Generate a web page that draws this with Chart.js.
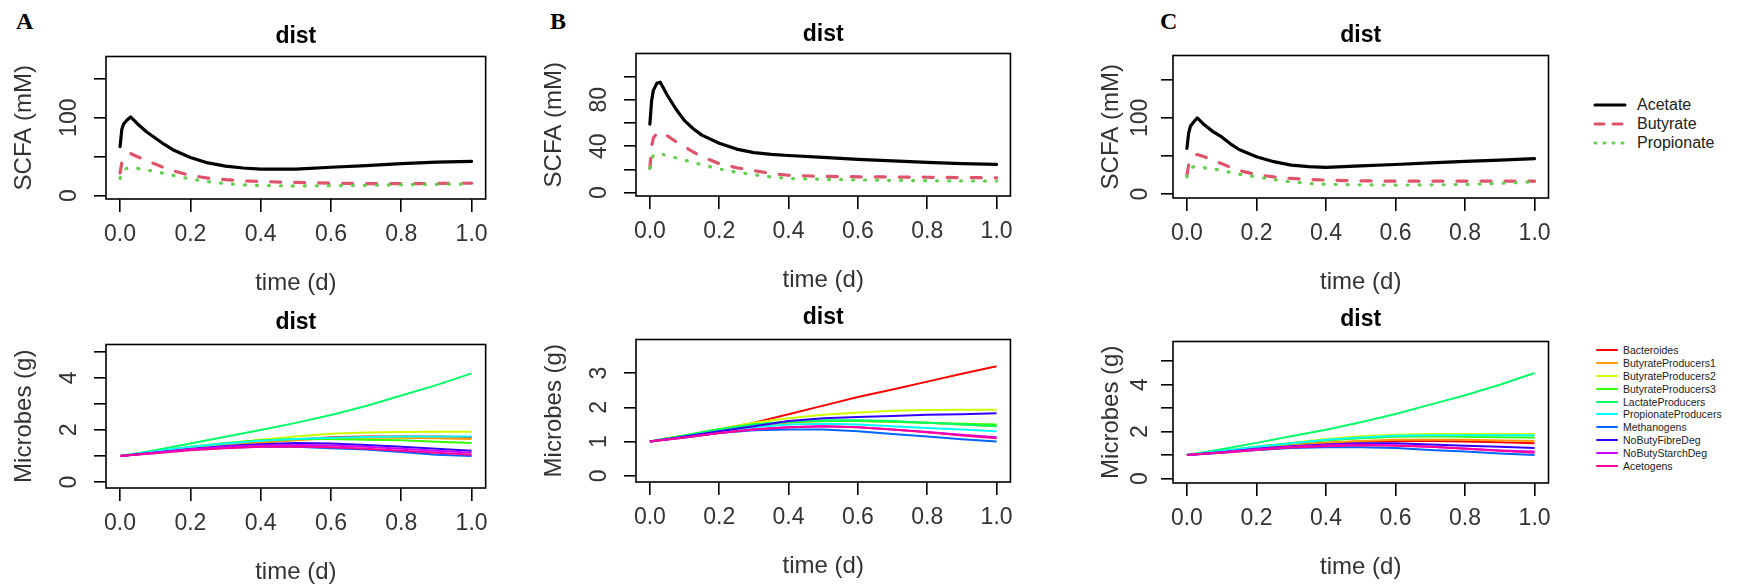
<!DOCTYPE html>
<html>
<head>
<meta charset="utf-8">
<script src="https://cdn.jsdelivr.net/npm/chart.js@4.4.0/dist/chart.umd.min.js"></script>
<style>
  html, body { margin: 0; padding: 0; background: #fff; }
  #fig { position: relative; width: 1742px; height: 585px; overflow: hidden; }
  #fig canvas { position: absolute; }
  .tag { position: absolute; font: bold 24px "Liberation Serif", "Times New Roman", serif; line-height: 24px; color: #000; }
  .legend { position: absolute; font-family: "Liberation Sans", Arial, sans-serif; color: #222; }
  .legend .row { position: absolute; left: 0; display: flex; align-items: center; white-space: nowrap; }
  .legend svg { display: block; }
</style>
</head>
<body>
<div id="fig">
  <div class="tag" style="left:16px; top:9px;">A</div>
  <div class="tag" style="left:550px; top:9px;">B</div>
  <div class="tag" style="left:1160px; top:9px;">C</div>
  <div class="legend" id="legendScfa"></div>
  <div class="legend" id="legendMicrobes"></div>
</div>
<script>
const FONT = '"Liberation Sans", Arial, sans-serif';

// ---- SCFA concentrations (mM) ----
const timeScfa = [0, 0.005, 0.01, 0.02, 0.03, 0.05, 0.075, 0.1, 0.125, 0.15, 0.2, 0.25, 0.3, 0.35, 0.4, 0.5, 0.6, 0.7, 0.8, 0.9, 1.0];
const scfaNames = ['Acetate', 'Butyrate', 'Propionate'];

const acetateA    = [63, 85, 92, 97, 101, 92, 82, 74, 66, 59, 49, 42, 38, 35.5, 34, 34, 36.5, 38.5, 41, 43, 44];
const butyrateA   = [29, 42, 47, 52, 54, 50, 45, 40.5, 36, 32, 26, 22.5, 20.5, 19, 18.2, 17, 16, 15.5, 15.5, 15.7, 16];
const propionateA = [22, 30, 33, 35, 35.5, 35, 33, 31, 28.5, 26, 21.5, 18, 15.5, 14, 13, 12.5, 12.8, 13.3, 14, 14.5, 15];

const acetateB    = [59, 79, 88, 94, 95, 84, 72, 62, 55, 49.5, 42.5, 37.5, 34.5, 33, 32, 30.3, 28.6, 27.4, 26, 25, 24.3];
const butyrateB   = [21, 40, 47, 51, 52, 49, 44, 39.5, 35, 31, 25, 21.5, 19, 16.5, 15, 14, 13.7, 13.5, 13.3, 13, 12.8];
const propionateB = [21, 29, 32, 34, 33.5, 32, 30, 28, 26, 24, 20.5, 17.5, 15.5, 13.5, 12.3, 11.5, 11, 10.6, 10.3, 10.1, 10];

const acetateC    = [60, 80, 89, 95, 100, 91, 82, 75, 66, 58.5, 49, 42.5, 38, 36, 35, 37, 38.8, 41, 43, 44.5, 46.5];
const butyrateC   = [25, 38, 45, 50, 52, 49, 44, 40, 35, 31, 25.5, 22.5, 20.5, 19, 18.3, 17.3, 17, 17, 17, 17, 17];
const propionateC = [22.5, 31, 34, 36, 36, 34.5, 33, 31, 28.5, 26, 22.5, 19, 16, 14, 12.8, 12, 11.8, 12, 12.6, 14, 16];

// ---- microbial biomass (g) ----
const timeMicrobes = [0, 0.1, 0.2, 0.3, 0.4, 0.5, 0.6, 0.7, 0.8, 0.9, 1.0];
const microbeNames = ['Bacteroides', 'ButyrateProducers1', 'ButyrateProducers2', 'ButyrateProducers3', 'LactateProducers',
                      'PropionateProducers', 'Methanogens', 'NoButyFibreDeg', 'NoButyStarchDeg', 'Acetogens'];

const microbesA = [
  [1, 1.15, 1.30, 1.42, 1.52, 1.62, 1.72, 1.75, 1.75, 1.75, 1.73],
  [1, 1.15, 1.30, 1.42, 1.52, 1.60, 1.68, 1.70, 1.70, 1.68, 1.65],
  [1, 1.15, 1.32, 1.48, 1.62, 1.75, 1.85, 1.90, 1.92, 1.93, 1.93],
  [1, 1.17, 1.35, 1.50, 1.60, 1.65, 1.65, 1.62, 1.60, 1.55, 1.50],
  [1, 1.22, 1.48, 1.74, 2.00, 2.27, 2.57, 2.92, 3.32, 3.72, 4.17],
  [1, 1.17, 1.35, 1.48, 1.58, 1.65, 1.70, 1.73, 1.75, 1.75, 1.75],
  [1, 1.12, 1.25, 1.32, 1.35, 1.35, 1.30, 1.25, 1.15, 1.05, 1.00],
  [1, 1.12, 1.27, 1.38, 1.45, 1.50, 1.48, 1.42, 1.35, 1.28, 1.20],
  [1, 1.13, 1.26, 1.35, 1.40, 1.42, 1.40, 1.35, 1.28, 1.20, 1.12],
  [1, 1.10, 1.22, 1.30, 1.35, 1.36, 1.33, 1.28, 1.20, 1.12, 1.05]
];
const microbesB = [
  [1, 1.17, 1.35, 1.55, 1.80, 2.05, 2.30, 2.52, 2.75, 2.98, 3.20],
  [1, 1.17, 1.33, 1.45, 1.55, 1.60, 1.60, 1.58, 1.55, 1.50, 1.45],
  [1, 1.18, 1.37, 1.55, 1.68, 1.78, 1.85, 1.90, 1.92, 1.93, 1.93],
  [1, 1.18, 1.36, 1.50, 1.58, 1.60, 1.60, 1.58, 1.55, 1.52, 1.50],
  [1, 1.18, 1.36, 1.50, 1.58, 1.62, 1.62, 1.60, 1.55, 1.50, 1.45],
  [1, 1.15, 1.30, 1.42, 1.50, 1.52, 1.50, 1.45, 1.40, 1.35, 1.30],
  [1, 1.12, 1.25, 1.33, 1.35, 1.35, 1.30, 1.22, 1.15, 1.07, 1.00],
  [1, 1.15, 1.30, 1.45, 1.60, 1.68, 1.72, 1.75, 1.78, 1.80, 1.83],
  [1, 1.12, 1.25, 1.36, 1.42, 1.45, 1.42, 1.35, 1.28, 1.20, 1.13],
  [1, 1.12, 1.25, 1.35, 1.42, 1.45, 1.42, 1.35, 1.27, 1.18, 1.10]
];
const microbesC = [
  [1, 1.15, 1.30, 1.42, 1.52, 1.58, 1.60, 1.60, 1.58, 1.55, 1.50],
  [1, 1.15, 1.30, 1.42, 1.52, 1.60, 1.65, 1.65, 1.65, 1.62, 1.60],
  [1, 1.17, 1.35, 1.52, 1.68, 1.80, 1.87, 1.90, 1.90, 1.90, 1.90],
  [1, 1.17, 1.35, 1.50, 1.62, 1.72, 1.78, 1.80, 1.78, 1.76, 1.75],
  [1, 1.25, 1.52, 1.80, 2.08, 2.40, 2.75, 3.15, 3.55, 4.00, 4.50],
  [1, 1.17, 1.35, 1.50, 1.65, 1.75, 1.82, 1.85, 1.85, 1.85, 1.85],
  [1, 1.10, 1.22, 1.30, 1.33, 1.33, 1.30, 1.22, 1.15, 1.07, 1.00],
  [1, 1.12, 1.27, 1.38, 1.45, 1.50, 1.50, 1.45, 1.40, 1.35, 1.30],
  [1, 1.12, 1.25, 1.35, 1.42, 1.45, 1.42, 1.35, 1.28, 1.20, 1.15],
  [1, 1.10, 1.22, 1.32, 1.38, 1.42, 1.40, 1.35, 1.27, 1.18, 1.10]
];

const xTicks = [0, 0.2, 0.4, 0.6, 0.8, 1.0];

// line looks (R palette, lty 1/2/3 and rainbow(10))
const scfaStyles = [
  { color: '#000000', dash: [] },
  { color: '#DF536B', dash: [10, 14] },
  { color: '#61D04F', dash: [1, 11] }
];
const microbeColors = ['#FF0000', '#FF9900', '#CCFF00', '#33FF00', '#00FF66',
                       '#00FFFF', '#0066FF', '#3300FF', '#CC00FF', '#FF0099'];

// plot boxes in page pixels; titleOff / labelOff = distance of the y title and y tick labels from the box
const panels = [
  { box: { l: 106, t: 56, r: 491, b: 199 },   titleGap: 20, titleOff: 82, labelOff: 36, yTitle: 'SCFA (mM)',    yMin: -4.25, yMax: 178.5, yTicks: [0, 50, 100, 150],       yLabels: [0, 100],     kind: 'scfa',    series: [acetateA, butyrateA, propionateA] },
  { box: { l: 106, t: 344, r: 491, b: 488 },  titleGap: 22, titleOff: 82, labelOff: 36, yTitle: 'Microbes (g)', yMin: -0.23, yMax: 5.28,  yTicks: [0, 1, 2, 3, 4, 5],       yLabels: [0, 2, 4],    kind: 'microbe', series: microbesA },
  { box: { l: 636, t: 53, r: 1016, b: 196 },  titleGap: 19, titleOff: 82, labelOff: 36, yTitle: 'SCFA (mM)',    yMin: -2.83, yMax: 119.7, yTicks: [0, 20, 40, 60, 80, 100], yLabels: [0, 40, 80],  kind: 'scfa',    series: [acetateB, butyrateB, propionateB] },
  { box: { l: 636, t: 339, r: 1016, b: 482 }, titleGap: 22, titleOff: 82, labelOff: 36, yTitle: 'Microbes (g)', yMin: -0.18, yMax: 3.98,  yTicks: [0, 1, 2, 3],             yLabels: [0, 1, 2, 3], kind: 'microbe', series: microbesB },
  { box: { l: 1173, t: 55, r: 1554, b: 198 }, titleGap: 20, titleOff: 62, labelOff: 32, yTitle: 'SCFA (mM)',    yMin: -5.2,  yMax: 182,   yTicks: [0, 50, 100, 150],       yLabels: [0, 100],     kind: 'scfa',    series: [acetateC, butyrateC, propionateC] },
  { box: { l: 1173, t: 341, r: 1554, b: 483 }, titleGap: 22, titleOff: 62, labelOff: 32, yTitle: 'Microbes (g)', yMin: -0.19, yMax: 5.84,  yTicks: [0, 1, 2, 3, 4, 5],       yLabels: [0, 2, 4],    kind: 'microbe', series: microbesC }
];

const measure = document.createElement('canvas').getContext('2d');
function textWidth(str, size) {
  measure.font = size + 'px ' + FONT;
  return measure.measureText(str).width;
}

// box around the plotting region, drawn over the lines like base R
const framePlugin = {
  id: 'frame',
  afterDraw(chart) {
    const { ctx, chartArea: a } = chart;
    ctx.save();
    ctx.strokeStyle = '#000';
    ctx.lineWidth = 1.6;
    ctx.strokeRect(a.left, a.top, a.right - a.left, a.bottom - a.top);
    ctx.restore();
  }
};

function makeDatasets(p) {
  const n = p.series.length;
  if (p.kind === 'scfa') {
    return p.series.map((vals, i) => ({
      label: scfaNames[i],
      data: vals.map((v, k) => ({ x: timeScfa[k], y: v })),
      borderColor: scfaStyles[i].color,
      borderDash: scfaStyles[i].dash,
      borderWidth: 3.2,
      borderCapStyle: 'round',
      borderJoinStyle: 'round',
      order: n - i
    }));
  }
  return p.series.map((vals, i) => ({
    label: microbeNames[i],
    data: vals.map((v, k) => ({ x: timeMicrobes[k], y: v })),
    borderColor: microbeColors[i],
    borderWidth: 2,
    order: n - i
  }));
}

function makePanel(p) {
  const yAxisW = 106, padRight = 6, xAxisH = 96, titleSize = 23, titleTop = 8, tickLen = 12;
  const titleBottom = p.titleGap - titleSize / 2;
  const titleH = titleTop + titleSize + titleBottom;
  const w = yAxisW + (p.box.r - p.box.l) + padRight;
  const h = titleH + (p.box.b - p.box.t) + xAxisH;

  const canvas = document.createElement('canvas');
  canvas.width = w;
  canvas.height = h;
  canvas.style.left = (p.box.l - yAxisW) + 'px';
  canvas.style.top = (p.box.t - titleH) + 'px';
  document.getElementById('fig').appendChild(canvas);

  const widest = Math.max(...p.yLabels.map(v => textWidth(String(v), 23)));
  const tickColor = '#000';
  const labelColor = '#333';

  new Chart(canvas, {
    type: 'line',
    data: { datasets: makeDatasets(p) },
    options: {
      responsive: false,
      animation: false,
      events: [],
      layout: { padding: { left: 0, right: padRight, top: 0, bottom: 0 } },
      elements: { point: { radius: 0 }, line: { tension: 0, fill: false } },
      plugins: {
        legend: { display: false },
        tooltip: { enabled: false },
        title: {
          display: true,
          text: 'dist',
          fullSize: false,
          color: '#000',
          font: { family: FONT, size: titleSize, weight: 'bold', lineHeight: 1 },
          padding: { top: titleTop, bottom: titleBottom }
        }
      },
      scales: {
        x: {
          type: 'linear',
          min: -0.04,
          max: 1.04,
          afterBuildTicks: s => { s.ticks = xTicks.map(v => ({ value: v })); },
          afterFit: s => { s.height = xAxisH; },
          border: { display: false },
          grid: { display: true, drawOnChartArea: false, drawTicks: true, tickLength: 13, color: tickColor, lineWidth: 1.6 },
          ticks: {
            autoSkip: false, maxRotation: 0, padding: 9, color: labelColor,
            font: { family: FONT, size: 23 },
            callback: v => v.toFixed(1)
          },
          title: {
            display: true, text: 'time (d)', color: labelColor,
            font: { family: FONT, size: 24, lineHeight: 1 },
            padding: { top: 0, bottom: 0 }
          }
        },
        y: {
          type: 'linear',
          min: p.yMin,
          max: p.yMax,
          afterBuildTicks: s => { s.ticks = p.yTicks.map(v => ({ value: v })); },
          afterFit: s => { s.width = yAxisW; },
          border: { display: false },
          grid: { display: true, drawOnChartArea: false, drawTicks: true, tickLength: tickLen, color: tickColor, lineWidth: 1.6 },
          ticks: {
            autoSkip: false, minRotation: 90, maxRotation: 90, crossAlign: 'center',
            padding: p.labelOff - tickLen - widest / 2, color: labelColor,
            font: { family: FONT, size: 23 },
            callback: v => (p.yLabels.includes(v) ? String(v) : '')
          },
          title: {
            display: true, text: p.yTitle, color: labelColor,
            font: { family: FONT, size: 24, lineHeight: 1 },
            padding: { top: yAxisW - p.titleOff - 12, bottom: 0 }
          }
        }
      }
    },
    plugins: [framePlugin]
  });
}

panels.forEach(makePanel);

// legends beside panel C
function lineSvg(len, color, width, dash) {
  const d = dash && dash.length ? ` stroke-dasharray="${dash.join(' ')}"` : '';
  return `<svg width="${len + 4}" height="10"><line x1="2" y1="5" x2="${len + 2}" y2="5" stroke="${color}" stroke-width="${width}" stroke-linecap="round"${d}/></svg>`;
}

function buildLegend(id, spec) {
  const el = document.getElementById(id);
  el.style.left = spec.left + 'px';
  el.style.top = spec.top + 'px';
  el.style.fontSize = spec.fontSize + 'px';
  spec.names.forEach((name, i) => {
    const row = document.createElement('div');
    row.className = 'row';
    row.style.top = (i * spec.step) + 'px';
    row.style.height = spec.step + 'px';
    row.innerHTML = lineSvg(spec.lineLen, spec.colors[i], spec.lineWidth, spec.dashes ? spec.dashes[i] : null) +
      `<span style="margin-left:${spec.gap}px">${name}</span>`;
    el.appendChild(row);
  });
}

buildLegend('legendScfa', {
  left: 1593, top: 95, fontSize: 16, step: 19, lineLen: 30, lineWidth: 3, gap: 10,
  names: scfaNames,
  colors: scfaStyles.map(s => s.color),
  dashes: [[], [9, 9], [1, 8]]
});

buildLegend('legendMicrobes', {
  left: 1595, top: 344, fontSize: 10.5, step: 12.8, lineLen: 20, lineWidth: 2, gap: 4,
  names: microbeNames,
  colors: microbeColors
});
</script>
</body>
</html>
